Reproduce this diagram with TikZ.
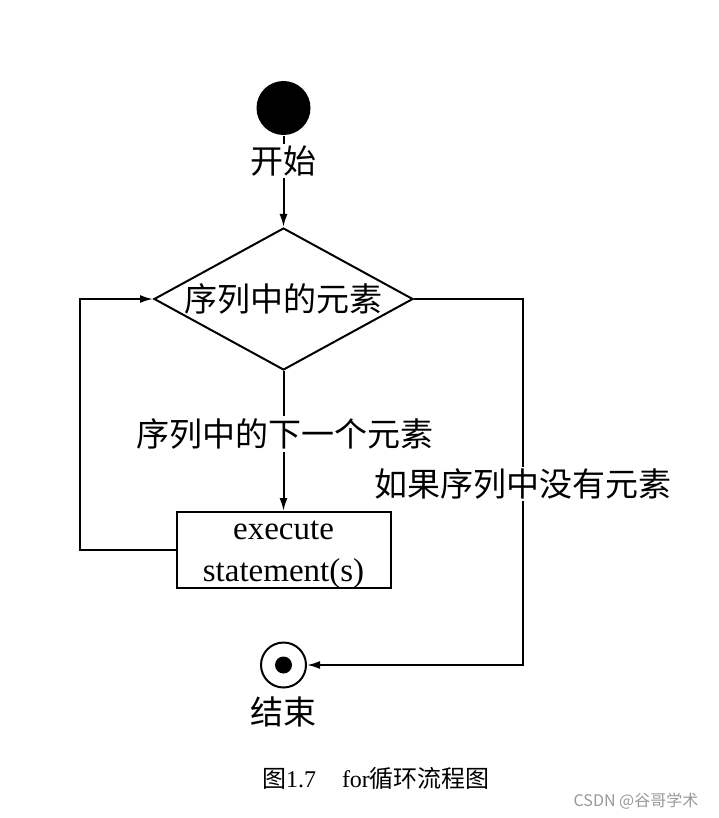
\documentclass[tikz,border=0pt]{standalone}
\usepackage{fontspec}
\setmainfont{Liberation Serif}
\newfontfamily\cjk{Noto Sans CJK SC}
\usetikzlibrary{shapes.geometric,arrows.meta}
\begin{document}
\begin{tikzpicture}[x=1pt,y=-1pt,
  line width=2pt,
  >={Latex[length=13pt,width=8pt]},
  cjklbl/.style={font=\cjk\fontsize{33}{36}\selectfont, inner sep=1pt},
  edgelbl/.style={font=\cjk\fontsize{33}{36}\selectfont, fill=white, inner sep=1.5pt},
  decision/.style={diamond, draw, aspect=1.82, minimum width=259pt, minimum height=142pt, inner sep=0pt,
    font=\cjk\fontsize{33}{36}\selectfont},
  process/.style={draw, minimum width=214pt, minimum height=76pt, inner sep=0pt,
    font=\fontsize{33}{42}\selectfont},
]
\useasboundingbox (0,0) rectangle (719,818);

% nodes
\node[circle, fill=black, minimum size=54pt, inner sep=0pt] (start) at (283.5,108) {};
\node[cjklbl] (startlbl) at (283.5,161) {开始};
\node[decision] (dec) at (283.5,299) {序列中的元素};
\node[edgelbl] (nextlbl) at (285,434) {序列中的下一个元素};
\node[process] (exec) at (283.5,550)
  {\raisebox{-8pt}[0pt][0pt]{\begin{tabular}{@{}c@{}}execute\\statement(s)\end{tabular}}};
\node[circle, draw, minimum size=45pt, inner sep=0pt] (stop) at (283.5,665) {};
\node[circle, fill=black, minimum size=17pt, inner sep=0pt] (stopdot) at (283.5,665) {};
\node[cjklbl] (stoplbl) at (283.5,712) {结束};

\coordinate (lb) at (80,550);
\coordinate (lt) at (80,299);
\coordinate (rt) at (523,299);
\coordinate (rb) at (523,665);

% connectors
\draw (start) -- (startlbl);
\draw[->] (startlbl) -- (dec.north);
\draw (dec.south) -- (dec.south |- nextlbl.north);
\draw[->] (dec.south |- nextlbl.south) -- (exec.north);
\draw[->] (exec.west) -- (lb) -- (lt) -- (dec.west);
\draw[->] (dec.east) -- (rt) -- node[edgelbl, pos=0.505] (nolbl) {如果序列中没有元素} (rb) -- (stop.east);

% caption
\node[font=\fontsize{24}{27}\selectfont, inner sep=0pt] (cap) at (376,778)
  {{\cjk 图}1.7\hspace{26pt}for{\cjk 循环流程图}};
\node[font=\cjk\fontsize{16}{18}\selectfont, text=black!40, inner sep=0pt] (wm) at (636,801)
  {CSDN @谷哥学术};
\end{tikzpicture}
\end{document}
